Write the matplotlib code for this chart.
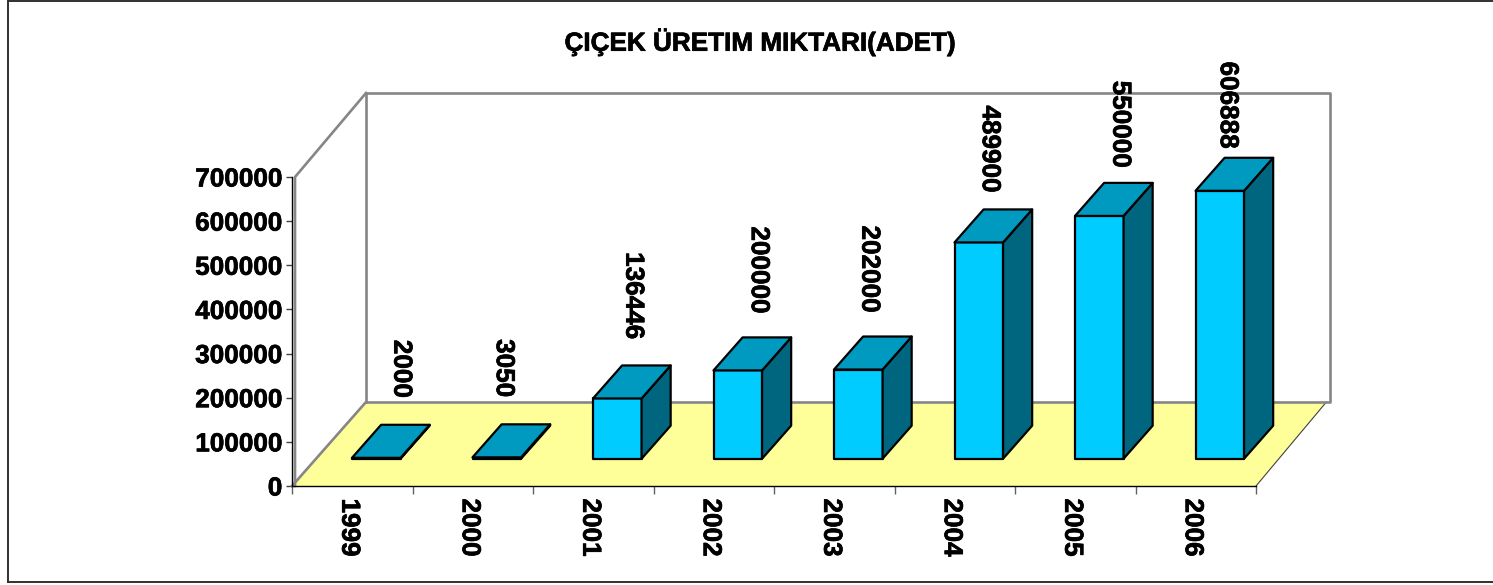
import matplotlib
matplotlib.use('Agg')
import matplotlib.pyplot as plt
import matplotlib.patheffects as pe
from matplotlib.lines import Line2D
from matplotlib.patches import Polygon

# Data
YEARS = ['1999', '2000', '2001', '2002', '2003', '2004', '2005', '2006']
VALUES = [2000, 3050, 136446, 200000, 202000, 489900, 550000, 606888]
Y_TICKS = [0, 100000, 200000, 300000, 400000, 500000, 600000, 700000]
TITLE = 'ÇIÇEK ÜRETIM MIKTARI(ADET)'

# Plot config
WIDTH = 1493.0
HEIGHT = 585.0
DPI = 100
FONT_SIZE = 18.8
AX_LEFT, AX_RIGHT, AX_TOP, AX_BOTTOM = 292, 1256, 177, 486
Y_MAX = 700000

FRONT = '#00CCFF'
TOP = '#0099BF'
SIDE = '#006680'
FLOOR = '#FFFF99'
GREY = '#868686'
HEAVY = [pe.withStroke(linewidth=0.5, foreground='black')]

# depth of the box, in axis units
DX = 74 / ((AX_RIGHT - AX_LEFT) / len(YEARS))
DY = 84 / (AX_BOTTOM - AX_TOP) * Y_MAX
BAR_WIDTH = 0.403
BAR_D0, BAR_D1 = 0.325, 0.718

# hand placed data labels in the original (pixels from the bar's front top)
LABEL_DX = [25, 7, 16, 21, 11, 11, 21, 8]
LABEL_DY = [60, 60, 59, 57, 57, 50, 48, 42]


def proj(x, v, d):
    return (x + d * DX, v + d * DY)


def draw_bar(ax, i, value):
    x0 = i + 0.5 - BAR_WIDTH / 2
    x1 = i + 0.5 + BAR_WIDTH / 2
    faces = [
        ([(x0, 0, BAR_D0), (x1, 0, BAR_D0), (x1, value, BAR_D0), (x0, value, BAR_D0)], FRONT),
        ([(x1, 0, BAR_D0), (x1, 0, BAR_D1), (x1, value, BAR_D1), (x1, value, BAR_D0)], SIDE),
        ([(x0, value, BAR_D0), (x1, value, BAR_D0), (x1, value, BAR_D1), (x0, value, BAR_D1)], TOP),
    ]
    for pts, color in faces:
        ax.add_patch(Polygon([proj(*p) for p in pts], closed=True, facecolor=color,
                             edgecolor='black', lw=1.6, joinstyle='round', zorder=3,
                             clip_on=False))


def wall_line(ax, pts, color=GREY, lw=1.9, zorder=2):
    xy = [proj(*p) for p in pts]
    ax.add_line(Line2D([p[0] for p in xy], [p[1] for p in xy], color=color, lw=lw,
                       zorder=zorder, clip_on=False))


def main():
    plt.rcParams['font.family'] = ['Liberation Sans', 'DejaVu Sans']
    plt.rcParams['font.weight'] = 'bold'

    fig = plt.figure(figsize=(WIDTH / DPI, HEIGHT / DPI), dpi=DPI)
    ax = fig.add_axes([AX_LEFT / WIDTH, 1 - AX_BOTTOM / HEIGHT,
                       (AX_RIGHT - AX_LEFT) / WIDTH, (AX_BOTTOM - AX_TOP) / HEIGHT])
    ax.patch.set_visible(False)
    n = len(YEARS)
    ax.set_xlim(0, n)
    ax.set_ylim(0, Y_MAX)

    # floor and walls
    ax.add_patch(Polygon([proj(0, 0, 0), proj(n, 0, 0), proj(n - 0.03, 0, 1), proj(0, 0, 1)],
                         closed=True, facecolor=FLOOR, edgecolor='none', zorder=1, clip_on=False))
    wall_line(ax, [(n, 0, 0), (n - 0.03, 0, 1)], color='#404040', lw=0.8)
    wall_line(ax, [(0, 0, 1), (0, Y_MAX, 1), (n, Y_MAX, 1), (n, 0, 1), (0, 0, 1)])
    wall_line(ax, [(0.025, 0, 0), (0.025, Y_MAX, 0), (0, Y_MAX, 1)])
    wall_line(ax, [(0, 0, 0), (0, 0, 1)])

    for i, value in enumerate(VALUES):
        draw_bar(ax, i, value)
        ax.annotate(str(value), xy=proj(i + 0.5, value, BAR_D0), xycoords='data',
                    xytext=(LABEL_DX[i] * 72 / DPI, LABEL_DY[i] * 72 / DPI),
                    textcoords='offset points', rotation=270, ha='center', va='bottom',
                    fontsize=FONT_SIZE, fontweight='bold', color='black', zorder=5,
                    annotation_clip=False, path_effects=HEAVY)

    # axes
    for side in ['top', 'right']:
        ax.spines[side].set_visible(False)
    for side in ['left', 'bottom']:
        ax.spines[side].set_linewidth(1.0)
        ax.spines[side].set_zorder(2.5)
    ax.set_yticks(Y_TICKS)
    ax.set_yticklabels([str(t) for t in Y_TICKS], fontsize=FONT_SIZE, fontweight='bold')
    ax.tick_params(axis='y', length=4.5, width=1.0, color='#404040', pad=2.5)
    ax.set_xticks(range(n + 1))
    ax.set_xticklabels([])
    ax.tick_params(axis='x', which='major', length=6, width=1.0, color='#606060')
    ax.set_xticks([i + 0.475 for i in range(n)], minor=True)
    ax.set_xticklabels(YEARS, minor=True, rotation=270, fontsize=FONT_SIZE, fontweight='bold')
    ax.tick_params(axis='x', which='minor', length=0, pad=9)
    for label in ax.get_yticklabels() + ax.get_xticklabels(minor=True):
        label.set_path_effects(HEAVY)

    fig.text(760 / WIDTH, 1 - 42 / HEIGHT, TITLE, ha='center', va='center',
             fontsize=FONT_SIZE, fontweight='bold', path_effects=HEAVY)

    # chart area border, cut off on the right in the original
    border = dict(color='#303030', lw=1.4, transform=fig.transFigure)
    fig.add_artist(Line2D([7.5 / WIDTH, 7.5 / WIDTH], [1 - 582 / HEIGHT, 1], **border))
    fig.add_artist(Line2D([7.5 / WIDTH, 1], [1 - 0.8 / HEIGHT, 1 - 0.8 / HEIGHT], **border))
    fig.add_artist(Line2D([7.5 / WIDTH, 1], [1 - 582 / HEIGHT, 1 - 582 / HEIGHT], **border))

    fig.savefig('out.png', dpi=DPI)


if __name__ == '__main__':
    main()
